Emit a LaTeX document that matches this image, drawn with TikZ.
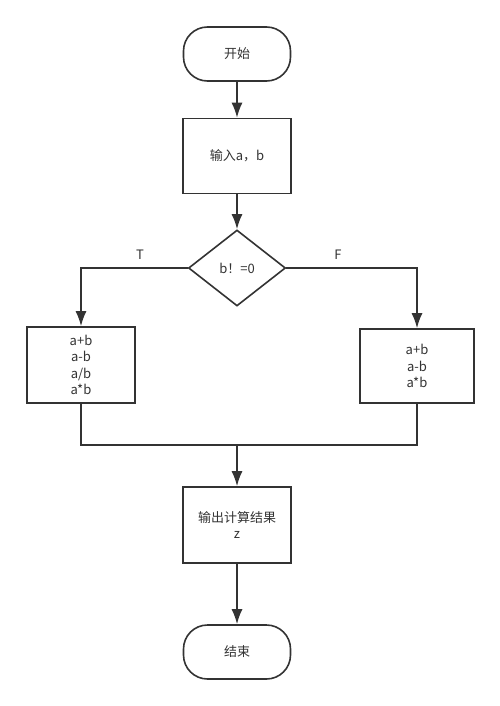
\documentclass[tikz,border=0pt]{standalone}
\usepackage{fontspec}
\setmainfont{Noto Sans CJK SC}
\usetikzlibrary{arrows.meta,shapes.geometric}
\definecolor{ln}{HTML}{333333}
\begin{document}
\begin{tikzpicture}[x=1pt,y=-1pt,
  every node/.style={text=ln,font=\fontsize{13}{16.5}\selectfont},
  terminal/.style={draw=ln,line width=1.6pt,rounded corners=24pt,minimum width=107pt,minimum height=54pt,fill=white},
  procbox/.style={draw=ln,line width=1.6pt,minimum width=108pt,minimum height=76pt,align=center,fill=white},
  decision/.style={draw=ln,line width=1.6pt,diamond,aspect=1.28,minimum width=97pt,minimum height=76pt,inner sep=0pt,fill=white},
  conn/.style={draw=ln,line width=1.6pt},
  arr/.style={conn,-{Latex[length=15pt,width=11pt]}}]
\fill[white] (0,0) rectangle (500,706);
\node[terminal] (start) at (237,54) {开始};
\node[procbox,minimum height=75pt] (inp) at (237,156) {输入a，b};
\node[decision] (dec) at (237,268) {b！=0};
\node[procbox,minimum width=108pt] (left) at (81,365) {a+b\\a-b\\a/b\\a*b};
\node[procbox,minimum width=114pt,minimum height=74pt] (right) at (417,366) {a+b\\a-b\\a*b};
\node[procbox] (out) at (237,525) {输出计算结果\\z};
\node[terminal] (end) at (237,652) {结束};
\coordinate (m) at (237,445);
\node (T) at (140,255) {T};
\node (F) at (338,255) {F};
\draw[arr] (start) -- (inp);
\draw[arr] (inp) -- (dec);
\draw[arr] (dec.west) -| (left.north);
\draw[arr] (dec.east) -| (right.north);
\draw[conn] (left.south) -- (left.south|-m) -- (right.south|-m) -- (right.south);
\draw[arr] (m) -- (out.north);
\draw[arr] (out) -- (end);
\end{tikzpicture}
\end{document}
